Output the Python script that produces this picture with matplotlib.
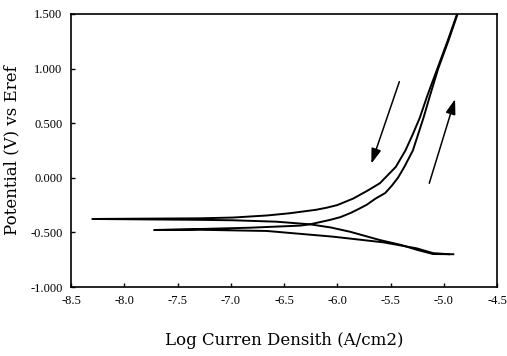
import matplotlib
matplotlib.use("Agg")
import matplotlib.pyplot as plt

#
# data (log current density, potential)
#
# scan with corrosion potential near -0.38 V (outer anodic branch)
scan1_cath_x = [-4.91, -5.10, -5.25, -5.40, -5.60, -5.88, -6.06, -6.256, -6.57, -6.98, -7.29, -7.80, -8.30]
scan1_cath_y = [-0.700, -0.698, -0.660, -0.615, -0.570, -0.494, -0.455, -0.426, -0.402, -0.389, -0.385, -0.381, -0.377]
scan1_anod_x = [-8.30, -7.80, -7.29, -6.98, -6.66, -6.45, -6.20, -6.10, -6.00, -5.85, -5.72, -5.60,
                -5.45, -5.36, -5.29, -5.225, -5.155, -5.06, -4.965, -4.875]
scan1_anod_y = [-0.377, -0.374, -0.371, -0.364, -0.345, -0.325, -0.293, -0.274, -0.250, -0.190, -0.120, -0.050,
                0.100, 0.250, 0.400, 0.550, 0.750, 1.000, 1.250, 1.500]

# scan with corrosion potential near -0.48 V (inner anodic branch)
scan2_cath_x = [-4.95, -5.10, -5.254, -5.567, -6.04, -6.66, -7.29, -7.72]
scan2_cath_y = [-0.700, -0.690, -0.646, -0.591, -0.539, -0.487, -0.476, -0.478]
scan2_anod_x = [-7.72, -7.29, -6.82, -6.35, -6.256, -6.07, -5.97, -5.87, -5.79, -5.72, -5.64, -5.55,
                -5.49, -5.43, -5.37, -5.29, -5.24, -5.19, -5.13, -5.052, -4.958, -4.870]
scan2_anod_y = [-0.478, -0.469, -0.457, -0.438, -0.426, -0.386, -0.360, -0.320, -0.281, -0.245, -0.190, -0.140,
                -0.075, 0.000, 0.100, 0.250, 0.400, 0.550, 0.750, 1.000, 1.250, 1.500]

# scan direction arrows: (tail, head)
arrow_down = ((-5.417, 0.88), (-5.68, 0.13))
arrow_up = ((-5.136, -0.05), (-4.894, 0.72))

x_ticks = [-8.5, -8.0, -7.5, -7.0, -6.5, -6.0, -5.5, -5.0, -4.5]
y_ticks = [-1.0, -0.5, 0.0, 0.5, 1.0, 1.5]

fig = plt.figure(figsize=(5.07, 3.56), dpi=100)
ax = fig.add_axes([71 / 507, 1 - 287 / 356, 426 / 507, 273 / 356])

lw = 1.4
ax.plot(scan1_cath_x + scan1_anod_x, scan1_cath_y + scan1_anod_y, color="black", lw=lw,
        solid_joinstyle="round")
ax.plot(scan2_cath_x + scan2_anod_x, scan2_cath_y + scan2_anod_y, color="black", lw=lw,
        solid_joinstyle="round")

for tail, head in (arrow_down, arrow_up):
    ax.annotate("", xy=head, xytext=tail,
                arrowprops=dict(arrowstyle="-|>,head_length=0.6,head_width=0.2",
                                mutation_scale=15, color="black", lw=1.1,
                                shrinkA=0, shrinkB=0))

ax.set_xlim(-8.5, -4.5)
ax.set_ylim(-1.0, 1.5)
ax.set_xticks(x_ticks)
ax.set_yticks(y_ticks)
ax.set_xticklabels([f"{v:.1f}" for v in x_ticks])
ax.set_yticklabels([f"{v:.3f}" for v in y_ticks])
ax.tick_params(direction="in", length=3, width=1, pad=6)
for lab in ax.get_xticklabels() + ax.get_yticklabels():
    lab.set_fontfamily("Liberation Serif")
    lab.set_fontsize(9)
for sp in ax.spines.values():
    sp.set_linewidth(1.2)

ax.set_xlabel("Log Curren Densith (A/cm2)", fontfamily="DejaVu Serif", fontsize=12)
ax.set_ylabel("Potential (V) vs Eref", fontfamily="DejaVu Serif", fontsize=12)
ax.xaxis.set_label_coords(0.5, -0.165)
ax.yaxis.set_label_coords(-0.12, 0.5)

fig.savefig("out.png", dpi=100)
